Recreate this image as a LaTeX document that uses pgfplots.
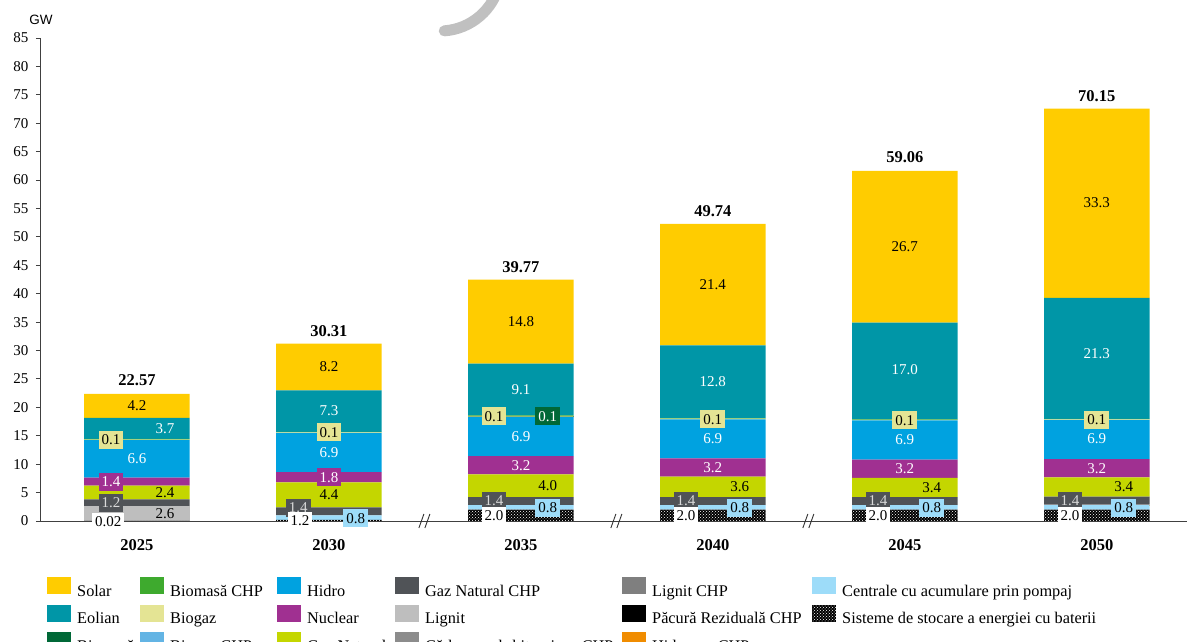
\documentclass[border=0pt]{standalone}
\usepackage{fontspec}
\setmainfont{Liberation Serif}
\newfontfamily\arialfont{Liberation Sans}
\usepackage{pgfplots}
\pgfplotsset{compat=1.18}
\usepackage{pgfplotstable}
\usetikzlibrary{patterns}

\definecolor{cSolar}{RGB}{255,204,0}
\definecolor{cEol}{RGB}{0,150,167}
\definecolor{cBiom}{RGB}{0,104,55}
\definecolor{cBiomCHP}{RGB}{62,170,46}
\definecolor{cBiog}{RGB}{228,228,148}
\definecolor{cBiogCHP}{RGB}{99,180,228}
\definecolor{cHidro}{RGB}{0,162,224}
\definecolor{cNuc}{RGB}{160,48,145}
\definecolor{cGN}{RGB}{196,214,0}
\definecolor{cGNCHP}{RGB}{80,83,87}
\definecolor{cLig}{RGB}{190,190,190}
\definecolor{cCarb}{RGB}{140,140,140}
\definecolor{cLigCHP}{RGB}{127,127,127}
\definecolor{cPac}{RGB}{0,0,0}
\definecolor{cHidr}{RGB}{240,140,0}
\definecolor{cPomp}{RGB}{157,220,249}
\definecolor{cArc}{RGB}{192,192,192}

\pgfplotstableread{
x bat pomp hidr lig gnchp gn nuc hidro biog biom biomchp eol sol
0 0.02 0 0 2.6 1.2 2.4 1.4 6.6 0.1 0 0.15 3.7 4.2
1 0.2 0.8 0 0 1.4 4.4 1.8 6.9 0.1 0 0.1 7.3 8.2
2 2.0 0.8 0 0 1.4 4.0 3.2 6.9 0.1 0.1 0.1 9.1 14.8
3 2.0 0.8 0 0 1.4 3.6 3.2 6.9 0.1 0 0.1 12.8 21.4
4 2.0 0.8 0 0 1.4 3.4 3.2 6.9 0.1 0 0.1 17.0 26.7
5 2.0 0.8 0.08 0 1.4 3.4 3.2 6.9 0.1 0 0.1 21.3 33.3
}\data

\tikzset{
  lf/.style={font=\fontsize{15}{18}\selectfont, inner sep=0pt},
  lw/.style={lf, text=white},
  lb/.style={lf, text=black},
  tl/.style={font=\fontsize{16.5}{19}\selectfont\bfseries, inner sep=0pt},
  bx/.style={lf, fill=#1, inner xsep=3pt, inner ysep=4pt, text height=10pt, text depth=0pt},
  bat/.style={fill=black, postaction={pattern=crosshatch dots, pattern color=white}},
}
\newcommand{\lbl}[4]{\node[#4] at (axis cs:#1,#2) {#3};}
\newcommand{\lgw}[2]{\raisebox{5pt}{\makebox[#1pt][l]{#2}}}
\newcommand{\lgr}[1]{\raisebox{5pt}{#1}}
\pgfplotsset{common/.style={scale only axis, width=1147pt, height=483pt,
  xmin=-0.505, xmax=5.47, ymin=0, ymax=85, clip=false}}

\begin{document}
\begin{tikzpicture}
\path[use as bounding box] (-40pt,-121pt) rectangle (1147pt,521pt);
\begin{axis}[
  name=ax, common, at={(0pt,0pt)}, anchor=south west,
  ybar stacked, bar width=0.55,
  axis x line=bottom, axis y line=left,
  axis line style={-, line width=0.9pt, black!75},
  xtick={0,1,2,3,4,5}, xticklabels={2025,2030,2035,2040,2045,2050},
  xticklabel style={font=\fontsize{16.5}{19}\selectfont\bfseries, yshift=-11pt},
  x tick style={draw=none},
  ytick={0,5,...,85},
  yticklabel style={font=\fontsize{15}{18}\selectfont, xshift=-4pt},
  y tick style={black!75, line width=0.9pt},
  tick align=outside, major tick length=4pt,
  /pgf/number format/assume math mode=true,
  legend columns=3, transpose legend, legend cell align=left,
  legend style={at={(axis description cs:0.0061,-0.1159)}, anchor=north west, draw=none,
    inner sep=0pt, font=\fontsize{16.3}{18}\selectfont,
    nodes={inner sep=0pt},
    /tikz/every odd column/.append style={column sep=6pt},
    /tikz/every even column/.append style={column sep=0pt},
    row sep=1.5pt},
  legend image code/.code={\fill[#1] (0pt,0pt) rectangle (24pt,17pt);},
]
% legend entries (column-wise)
\addlegendimage{fill=cSolar,draw=none}\addlegendentry{\lgw{63}{Solar}}
\addlegendimage{fill=cEol,draw=none}\addlegendentry{\lgw{63}{Eolian}}
\addlegendimage{fill=cBiom,draw=none}\addlegendentry{\lgw{63}{Biomasă}}
\addlegendimage{fill=cBiomCHP,draw=none}\addlegendentry{\lgw{107}{Biomasă CHP}}
\addlegendimage{fill=cBiog,draw=none}\addlegendentry{\lgw{107}{Biogaz}}
\addlegendimage{fill=cBiogCHP,draw=none}\addlegendentry{\lgw{107}{Biogaz CHP}}
\addlegendimage{fill=cHidro,draw=none}\addlegendentry{\lgw{88}{Hidro}}
\addlegendimage{fill=cNuc,draw=none}\addlegendentry{\lgw{88}{Nuclear}}
\addlegendimage{fill=cGN,draw=none}\addlegendentry{\lgw{88}{Gaz Natural}}
\addlegendimage{fill=cGNCHP,draw=none}\addlegendentry{\lgw{197}{Gaz Natural CHP}}
\addlegendimage{fill=cLig,draw=none}\addlegendentry{\lgw{197}{Lignit}}
\addlegendimage{fill=cCarb,draw=none}\addlegendentry{\lgw{197}{Cărbune sub-bituminos CHP}}
\addlegendimage{fill=cLigCHP,draw=none}\addlegendentry{\lgw{160}{Lignit CHP}}
\addlegendimage{fill=cPac,draw=none}\addlegendentry{\lgw{160}{Păcură Reziduală CHP}}
\addlegendimage{fill=cHidr,draw=none}\addlegendentry{\lgw{160}{Hidrogen CHP}}
\addlegendimage{fill=cPomp,draw=none}\addlegendentry{\lgr{Centrale cu acumulare prin pompaj}}
\addlegendimage{bat,draw=none}\addlegendentry{\lgr{Sisteme de stocare a energiei cu baterii}}

% stacked bars
\addplot[bat, draw=none] table[x=x,y=bat]{\data};
\addplot[fill=cPomp, draw=none] table[x=x,y=pomp]{\data};
\addplot[fill=cHidr, draw=none] table[x=x,y=hidr]{\data};
\addplot[fill=cLig, draw=none] table[x=x,y=lig]{\data};
\addplot[fill=cGNCHP, draw=none] table[x=x,y=gnchp]{\data};
\addplot[fill=cGN, draw=none] table[x=x,y=gn]{\data};
\addplot[fill=cNuc, draw=none] table[x=x,y=nuc]{\data};
\addplot[fill=cHidro, draw=none] table[x=x,y=hidro]{\data};
\addplot[fill=cBiog, draw=none] table[x=x,y=biog]{\data};
\addplot[fill=cBiom, draw=none] table[x=x,y=biom]{\data};
\addplot[fill=cBiomCHP, draw=none] table[x=x,y=biomchp]{\data};
\addplot[fill=cEol, draw=none] table[x=x,y=eol]{\data};
\addplot[fill=cSolar, draw=none] table[x=x,y=sol]{\data};
\end{axis}

\begin{axis}[common, at={(ax.south west)}, anchor=south west, hide axis]
% GW unit
\node[font=\arialfont\fontsize{13.5}{15}\selectfont, anchor=center] at ([xshift=1pt,yshift=18pt]axis cs:-0.505,85) {GW};

% axis breaks
\pgfplotsinvokeforeach{1.5,2.5,3.5}{
  \draw[black!80, line width=0.9pt] ([xshift=-6pt,yshift=-7pt]axis cs:#1,0) -- ++(5pt,14pt);
  \draw[black!80, line width=0.9pt] ([xshift=0pt,yshift=-7pt]axis cs:#1,0) -- ++(5pt,14pt);
}

% 2025
\lbl{0}{20.27}{4.2}{lb}
\lbl{0.146}{16.32}{3.7}{lw}
\lbl{-0.135}{14.3}{0.1}{bx=cBiog}
\lbl{0}{10.92}{6.6}{lw}
\lbl{-0.135}{6.95}{1.4}{bx=cNuc,text=white}
\lbl{0.146}{5.02}{2.4}{lb}
\lbl{-0.135}{3.22}{1.2}{bx=cGNCHP,text=black!15}
\lbl{0.146}{1.32}{2.6}{lb}
\lbl{-0.15}{-0.1}{0.02}{bx=white}
\lbl{0}{24.7}{22.57}{tl}
% 2030
\lbl{1}{27.1}{8.2}{lb}
\lbl{1}{19.35}{7.3}{lw}
\lbl{1}{15.6}{0.1}{bx=cBiog}
\lbl{1}{12.05}{6.9}{lw}
\lbl{1}{7.7}{1.8}{bx=cNuc,text=white}
\lbl{1}{4.6}{4.4}{lb}
\lbl{0.84}{2.3}{1.4}{bx=cGNCHP,text=black!15}
\lbl{0.85}{0}{1.2}{bx=white}
\lbl{1.14}{0.5}{0.8}{bx=cPomp}
\lbl{1}{33.5}{30.31}{tl}
% 2035
\lbl{2}{35.1}{14.8}{lb}
\lbl{2}{23.15}{9.1}{lw}
\lbl{1.86}{18.45}{0.1}{bx=cBiog}
\lbl{2.14}{18.45}{0.1}{bx=cBiom,text=white}
\lbl{2}{14.85}{6.9}{lw}
\lbl{2}{9.8}{3.2}{lw}
\lbl{2.14}{6.2}{4.0}{lb}
\lbl{1.86}{3.6}{1.4}{bx=cGNCHP,text=black!15}
\lbl{1.86}{0.9}{2.0}{bx=white}
\lbl{2.14}{2.3}{0.8}{bx=cPomp}
\lbl{2}{44.7}{39.77}{tl}
% 2040
\lbl{3}{41.6}{21.4}{lb}
\lbl{3}{24.5}{12.8}{lw}
\lbl{3}{17.95}{0.1}{bx=cBiog}
\lbl{3}{14.45}{6.9}{lw}
\lbl{3}{9.4}{3.2}{lw}
\lbl{3.14}{6.0}{3.6}{lb}
\lbl{2.86}{3.6}{1.4}{bx=cGNCHP,text=black!15}
\lbl{2.86}{0.9}{2.0}{bx=white}
\lbl{3.14}{2.3}{0.8}{bx=cPomp}
\lbl{3}{54.5}{49.74}{tl}
% 2045
\lbl{4}{48.25}{26.7}{lb}
\lbl{4}{26.6}{17.0}{lw}
\lbl{4}{17.75}{0.1}{bx=cBiog}
\lbl{4}{14.25}{6.9}{lw}
\lbl{4}{9.2}{3.2}{lw}
\lbl{4.14}{5.9}{3.4}{lb}
\lbl{3.86}{3.6}{1.4}{bx=cGNCHP,text=black!15}
\lbl{3.86}{0.9}{2.0}{bx=white}
\lbl{4.14}{2.3}{0.8}{bx=cPomp}
\lbl{4}{64.0}{59.06}{tl}
% 2050
\lbl{5}{56.1}{33.3}{lb}
\lbl{5}{29.5}{21.3}{lw}
\lbl{5}{17.83}{0.1}{bx=cBiog}
\lbl{5}{14.5}{6.9}{lw}
\lbl{5}{9.28}{3.2}{lw}
\lbl{5.14}{5.98}{3.4}{lb}
\lbl{4.86}{3.6}{1.4}{bx=cGNCHP,text=black!15}
\lbl{4.86}{0.9}{2.0}{bx=white}
\lbl{5.14}{2.3}{0.8}{bx=cPomp}
\lbl{5}{74.8}{70.15}{tl}
\end{axis}
% grey arc fragment at the top edge
\draw[line width=11pt, cArc, line cap=round] (400pt,551pt) ++(-86:61pt) arc[start angle=-86, end angle=-12, radius=61pt];
\end{tikzpicture}
\end{document}
